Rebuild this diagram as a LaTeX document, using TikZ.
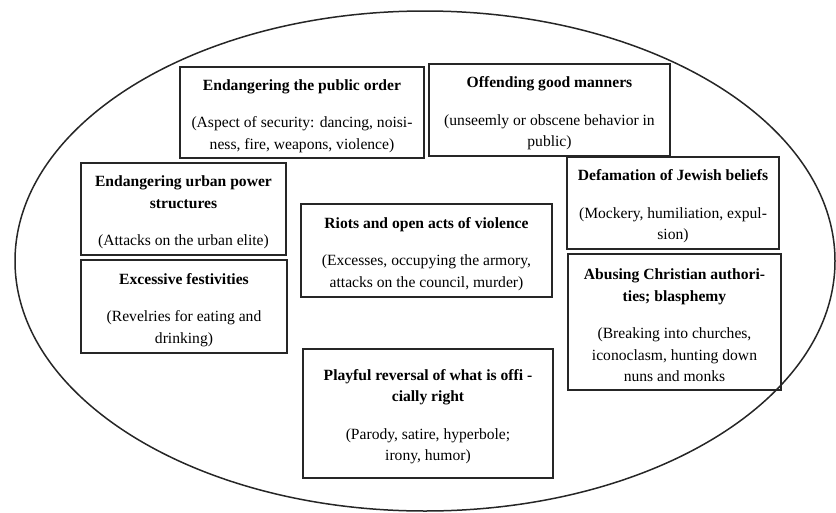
\documentclass[tikz,border=0pt]{standalone}
\usepackage{fontspec}
\setmainfont{Liberation Serif}
\newcommand{\toplift}{\rule{0pt}{17.5pt}}
\begin{document}
\begin{tikzpicture}[x=1pt,y=-1pt,
  catbox/.style={draw=black!85, line width=1.3pt, align=center, inner sep=0pt,
    font=\fontsize{15.6}{21.5}\selectfont}]
\useasboundingbox (0,0) rectangle (836,512);
\clip (0,0) rectangle (836,512);
\draw[black!85, line width=1.5pt] (425,261) ellipse [x radius=410, y radius=250];
\node[catbox, minimum width=244, minimum height=91] (pub) at (302,112.5)
  {\toplift\textbf{Endangering the public order}\\[16pt]
   (Aspect of security: dancing, noisi-\\ness, fire, weapons, violence)};
\node[catbox, minimum width=241, minimum height=92] (man) at (549.5,110)
  {\toplift\textbf{Offending good manners}\\[16pt]
   (unseemly or obscene behavior in\\public)};
\node[catbox, minimum width=205, minimum height=92] (urb) at (183.5,209)
  {\toplift\textbf{Endangering urban power}\\\textbf{structures}\\[16pt]
   (Attacks on the urban elite)};
\node[catbox, minimum width=206, minimum height=93] (fest) at (184,306.5)
  {\toplift\textbf{Excessive festivities}\\[16pt]
   (Revelries for eating and\\drinking)};
\node[catbox, minimum width=251, minimum height=93] (riot) at (426.5,250.5)
  {\toplift\textbf{Riots and open acts of violence}\\[16pt]
   (Excesses, occupying the armory,\\attacks on the council, murder)};
\node[catbox, minimum width=212, minimum height=92] (jew) at (673,203)
  {\toplift\textbf{Defamation of Jewish beliefs}\\[16pt]
   (Mockery, humiliation, expul-\\sion)};
\node[catbox, minimum width=213, minimum height=136] (chr) at (674.5,322)
  {\toplift\textbf{Abusing Christian authori-}\\\textbf{ties; blasphemy}\\[16pt]
   (Breaking into churches,\\iconoclasm, hunting down\\nuns and monks};
\node[catbox, minimum width=250, minimum height=129] (play) at (428,413.5)
  {\toplift\textbf{Playful reversal of what is offi -}\\\textbf{cially right}\\[16pt]
   (Parody, satire, hyperbole;\\irony, humor)};
\end{tikzpicture}
\end{document}
